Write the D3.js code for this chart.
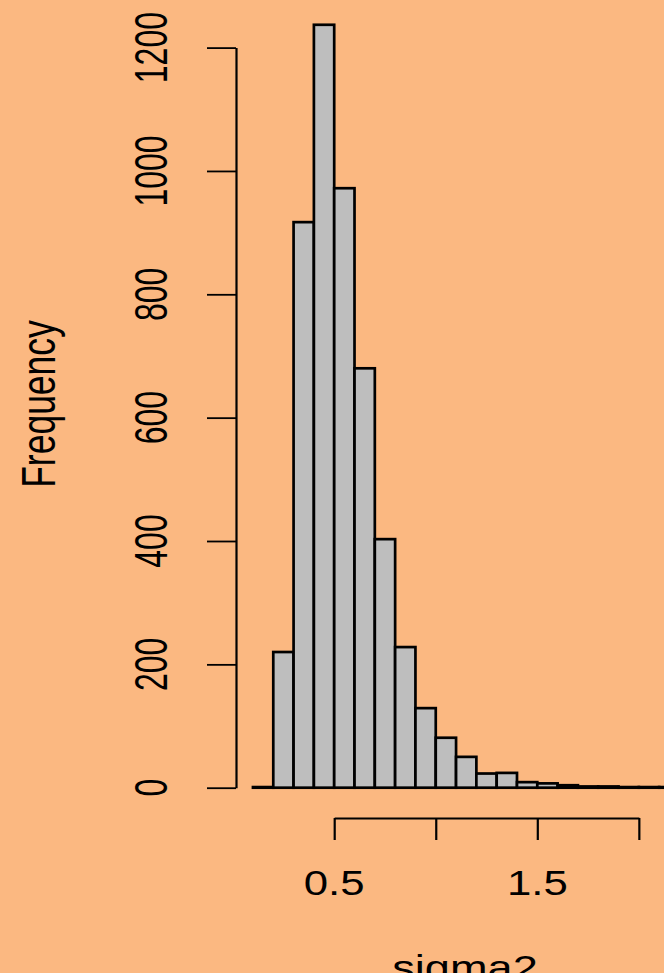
<!DOCTYPE html>
<html><head><meta charset="utf-8">
<script src="https://cdn.jsdelivr.net/npm/d3@7"></script>
<style>
html,body{margin:0;padding:0;background:#FBB881;}
svg{display:block;}
text{font-family:"Liberation Sans",Arial,Helvetica,sans-serif;fill:#000;}
</style></head>
<body>
<script>
// Histogram of sigma2 (bin width 0.1)
const binStarts = [0.1,0.2,0.3,0.4,0.5,0.6,0.7,0.8,0.9,1.0,1.1,1.2,1.3,1.4,1.5,1.6,1.7,1.8,1.9,2.0,2.1];
const binEnds   = [0.2,0.3,0.4,0.5,0.6,0.7,0.8,0.9,1.0,1.1,1.2,1.3,1.4,1.5,1.6,1.7,1.8,1.9,2.0,2.1,2.2];
const counts    = [1,220,917,1237,972,680,403,228,129,81,50,23,24,9,7,4,2,2,1,1,1];
const xTicks = [0.5,1.0,1.5,2.0];
const xTickLabels = ["0.5","","1.5",""];
const yTicks = [0,200,400,600,800,1000,1200];
const yTickLabels = ["0","200","400","600","800","1000","1200"];
const xTitle = "sigma2";
const yTitle = "Frequency";

const W = 664, H = 973;
const svg = d3.select("body").append("svg").attr("width",W).attr("height",H);
svg.append("rect").attr("width",W).attr("height",H).attr("fill","#FBB881");

const x = d3.scaleLinear().domain([0.5,1.5]).range([334.2,537.3]);
const y = d3.scaleLinear().domain([0,1200]).range([787.7,47.6]);

// bars
const bars = binStarts.map((b,i)=>({x0:b,x1:binEnds[i],n:counts[i]}));
svg.append("g").selectAll("rect").data(bars).join("rect")
  .attr("x",d=>x(d.x0)).attr("width",d=>x(d.x1)-x(d.x0))
  .attr("y",d=>y(d.n)).attr("height",d=>y(0)-y(d.n))
  .attr("fill","#BEBEBE").attr("stroke","#000").attr("stroke-width",2.7);

// y axis
const yAxisX = 236;
const gy = svg.append("g").attr("transform",`translate(${yAxisX},0)`)
  .call(d3.axisLeft(y).tickValues(yTicks).tickSize(29).tickSizeOuter(0).tickFormat(""));
gy.select(".domain").attr("stroke","#000").attr("stroke-width",2.2);
gy.selectAll(".tick line").attr("stroke","#000").attr("stroke-width",1.8);
svg.append("g").selectAll("text").data(yTicks).join("text")
  .attr("transform",(d)=>`translate(166.5,${y(d)}) scale(1.44,1) rotate(-90)`)
  .attr("text-anchor","middle").attr("font-size",32)
  .text((d,i)=>yTickLabels[i]);

// x axis
const xa = d3.scaleLinear().domain([xTicks[0],xTicks[xTicks.length-1]]).range([x(xTicks[0]),x(xTicks[xTicks.length-1])]);
const xAxisY = 818;
const gx = svg.append("g").attr("transform",`translate(0,${xAxisY})`)
  .call(d3.axisBottom(xa).tickValues(xTicks).tickSize(22).tickSizeOuter(0).tickFormat(""));
gx.select(".domain").attr("stroke","#000").attr("stroke-width",2);
gx.selectAll(".tick line").attr("stroke","#000").attr("stroke-width",2.2);
svg.append("g").selectAll("text").data(xTicks).join("text")
  .attr("transform",d=>`translate(${x(d)},895) scale(1.25,1)`)
  .attr("text-anchor","middle").attr("font-size",35)
  .text((d,i)=>xTickLabels[i]);

// titles
svg.append("text").attr("transform","translate(465,980) scale(1.29,1)")
  .attr("text-anchor","middle").attr("font-size",35).text(xTitle);
svg.append("text").attr("transform","translate(55,404) scale(1.38,1) rotate(-90)")
  .attr("text-anchor","middle").attr("font-size",35.5).text(yTitle);
</script>
</body></html>
